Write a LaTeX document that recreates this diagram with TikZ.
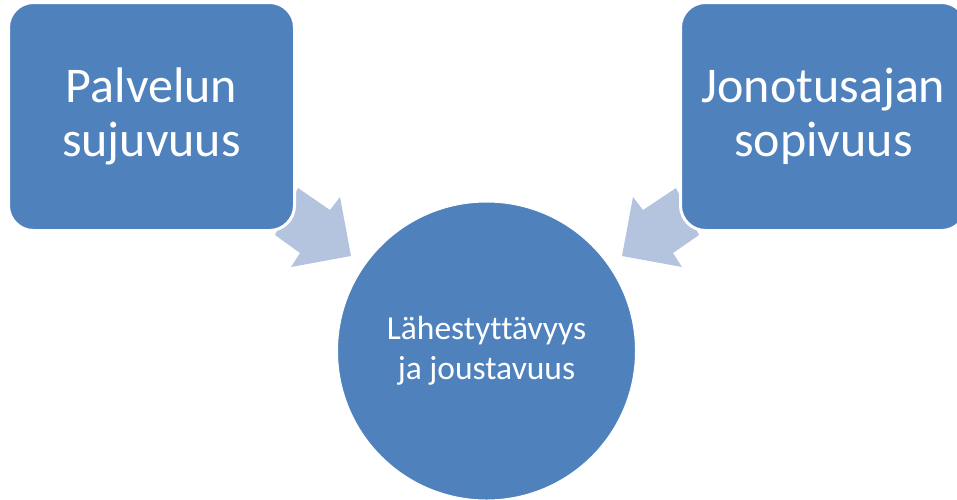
\documentclass[tikz,border=0pt]{standalone}
\usepackage{fontspec}
\setmainfont[Ligatures={NoCommon}]{Carlito}
\definecolor{boxblue}{RGB}{79,129,189}
\definecolor{arrowblue}{RGB}{180,195,222}
\begin{document}
\begin{tikzpicture}[x=1pt,y=-1pt,
  box/.style={rectangle, rounded corners=25pt, fill=boxblue, draw=white, line width=3pt,
    minimum width=286pt, minimum height=228pt, inner sep=0pt, text=white, align=center,
    font=\fontsize{50}{54}\selectfont},
  hub/.style={circle, fill=boxblue, draw=white, line width=1pt, minimum size=298pt, inner sep=0pt,
    text=white, align=center, font=\fontsize{33.5}{40}\selectfont},
  conv/.style={fill=arrowblue, draw=none}]
\useasboundingbox (0,0) rectangle (957,499);
\clip (0,0) rectangle (957,499);
% arrows (drawn beneath boxes)
\coordinate (la) at (298,188);
\coordinate (ra) at (676,188);
\fill[conv] (la) -- (330,210) -- (340,197) -- (351,256) -- (291,267) -- (300,253) -- (275,235) -- cycle;
\fill[conv] (ra) -- (643,210) -- (633,197) -- (622,256) -- (682,267) -- (673,253) -- (699,235) -- cycle;
\node[box] (pal) at (151.5,116.5) {Palvelun\\sujuvuus};
\node[box] (jon) at (823.5,116.5) {Jonotusajan\\sopivuus};
\node[hub] (lah) at (486.5,351) {Lähestyttävyys\\ja joustavuus};
\end{tikzpicture}
\end{document}
